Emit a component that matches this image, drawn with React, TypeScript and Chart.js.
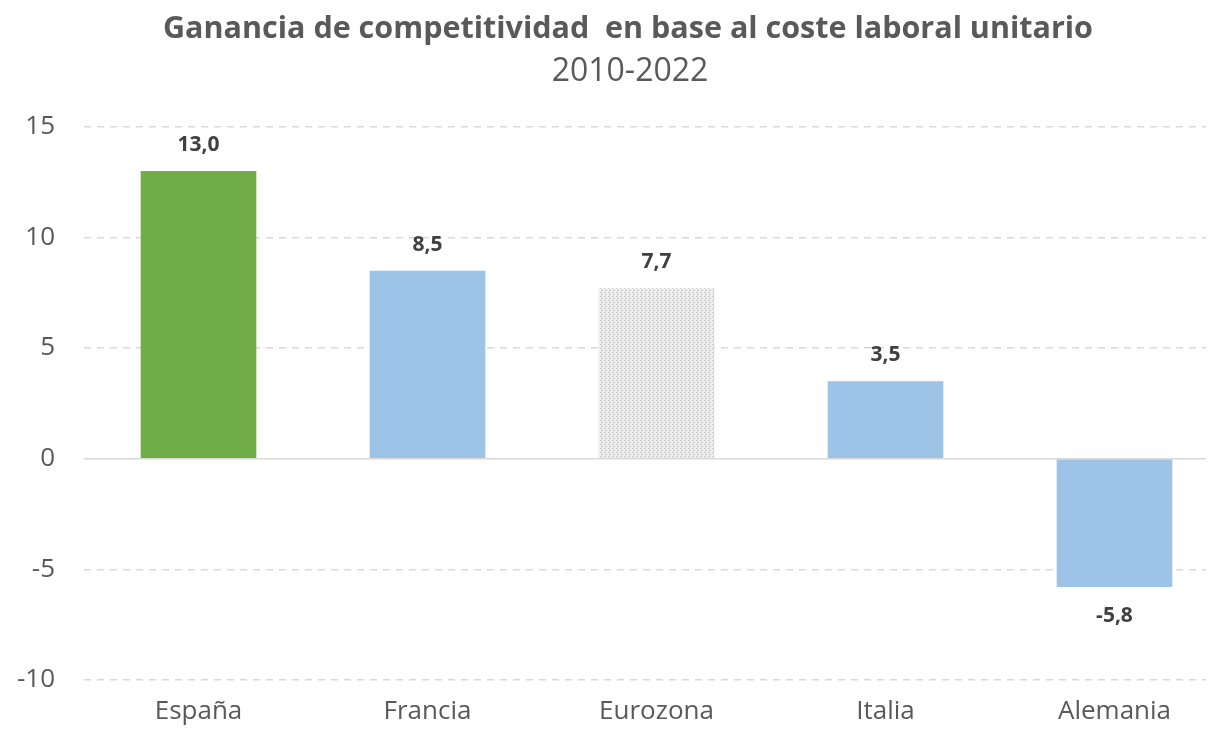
import React, { useEffect, useRef } from "react";
import { Chart, registerables } from "chart.js";

Chart.register(...registerables);

const categories = ["España", "Francia", "Eurozona", "Italia", "Alemania"];
const values = [13.0, 8.5, 7.7, 3.5, -5.8];
const titleText = "Ganancia de competitividad  en base al coste laboral unitario";
const subtitleText = "2010-2022";
const yTicks = [-10, -5, 0, 5, 10, 15];

const FONT = "Open Sans";
const TEXT = "#595959";

function makePattern(): CanvasPattern | string {
  const c = document.createElement("canvas");
  c.width = 4;
  c.height = 4;
  const g = c.getContext("2d");
  if (!g) return "#dddddd";
  g.fillStyle = "#efefef";
  g.fillRect(0, 0, 4, 4);
  g.fillStyle = "#c8c8c8";
  g.fillRect(0, 0, 1, 1);
  g.fillRect(2, 2, 1, 1);
  g.fillStyle = "#dadada";
  g.fillRect(1, 0, 1, 4);
  const p = g.createPattern(c, "repeat");
  return p || "#dddddd";
}

const extras = {
  id: "extras",
  beforeDraw(chart: any) {
    const { ctx, chartArea } = chart;
    ctx.save();
    ctx.beginPath();
    ctx.rect(0, 0, chartArea.right - 23, chart.height);
    ctx.clip();
  },
  afterDraw(chart: any) {
    const { ctx } = chart;
    ctx.restore();
    ctx.save();
    ctx.fillStyle = TEXT;
    ctx.textAlign = "center";
    ctx.textBaseline = "middle";
    ctx.font = `bold 30.5px "${FONT}"`;
    ctx.fillText(titleText, 628, 29);
    ctx.font = `32px "${FONT}"`;
    ctx.fillText(subtitleText, 630, 72);
    ctx.restore();
  },
  beforeDatasetsDraw(chart: any) {
    const { ctx, chartArea, scales } = chart;
    const y0 = scales.y.getPixelForValue(0);
    ctx.save();
    ctx.strokeStyle = "#d9d9d9";
    ctx.lineWidth = 1.5;
    ctx.beginPath();
    ctx.moveTo(chartArea.left, y0);
    ctx.lineTo(chartArea.right, y0);
    ctx.stroke();
    ctx.restore();
  },
  afterDatasetsDraw(chart: any) {
    const { ctx } = chart;
    const meta = chart.getDatasetMeta(0);
    ctx.save();
    ctx.font = `bold 21px "${FONT}"`;
    ctx.fillStyle = "#404040";
    ctx.textAlign = "center";
    ctx.textBaseline = "middle";
    meta.data.forEach((bar: any, i: number) => {
      const v = values[i];
      const txt = v.toFixed(1).replace(".", ",");
      if (v >= 0) {
        ctx.fillText(txt, bar.x, bar.y - 26);
      } else {
        ctx.fillText(txt, bar.x, bar.y + 29);
      }
    });
    ctx.restore();
  },
};

export default function App() {
  const ref = useRef<HTMLCanvasElement>(null);
  useEffect(() => {
    if (!ref.current) return;
    const pattern = makePattern();
    const colors = ["#70ad47", "#9dc3e6", pattern, "#9dc3e6", "#9dc3e6"];
    const chart = new Chart(ref.current, {
      type: "bar",
      data: {
        labels: categories,
        datasets: [
          {
            data: values,
            backgroundColor: colors as any,
            borderWidth: 0,
            categoryPercentage: 1,
            barPercentage: 0.505,
          },
        ],
      },
      plugins: [extras],
      options: {
        responsive: false,
        animation: false,
        devicePixelRatio: 1,
        layout: { padding: { left: 0, right: 21, top: 0, bottom: 0 } },
        plugins: {
          legend: { display: false },
          tooltip: { enabled: false },
          title: {
            display: true,
            text: titleText,
            color: "rgba(0,0,0,0)",
            font: { family: FONT, size: 30, weight: "bold" },
            padding: { top: 10, bottom: 6 },
          },
          subtitle: {
            display: true,
            text: subtitleText,
            color: "rgba(0,0,0,0)",
            font: { family: FONT, size: 29, weight: "normal" },
            padding: { top: 0, bottom: 40 },
          },
        },
        scales: {
          x: {
            afterFit(scale: any) {
              scale.height = 58;
            },
            grid: { display: false, drawTicks: false },
            border: { display: false },
            ticks: {
              color: TEXT,
              font: { family: FONT, size: 26 },
              padding: 16,
              maxRotation: 0,
            },
          },
          y: {
            min: -10,
            max: 15,
            afterBuildTicks(scale: any) {
              scale.ticks = yTicks.map((v) => ({ value: v }));
            },
            afterFit(scale: any) {
              scale.width = 84;
            },
            grid: {
              color: (c: any) => (c.tick && c.tick.value === 0 ? "rgba(0,0,0,0)" : "#d9d9d9"),
              lineWidth: 1.5,
              drawTicks: false,
            },
            border: { display: false, dash: [7, 6] },
            ticks: {
              color: TEXT,
              font: { family: FONT, size: 26 },
              padding: 29,
            },
          },
        },
      },
    });
    return () => chart.destroy();
  }, []);
  return (
    <div style={{ position: "absolute", left: 0, top: 0, width: 1211, height: 738, overflow: "hidden", background: "#fff" }}>
      <canvas ref={ref} width={1250} height={738} style={{ display: "block" }} />
    </div>
  );
}
